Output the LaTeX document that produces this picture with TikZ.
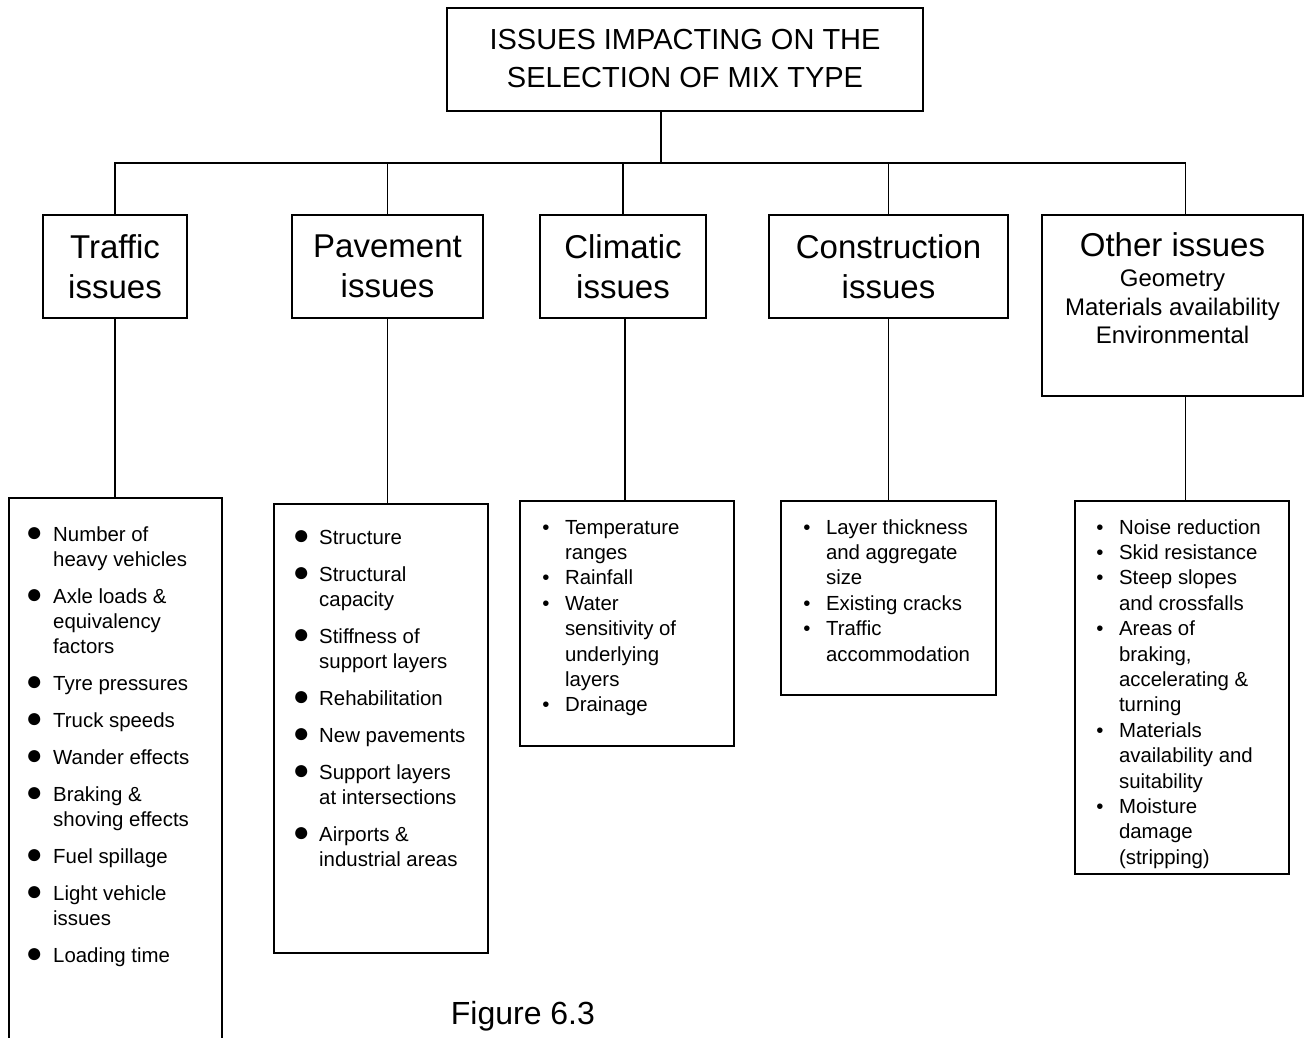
\documentclass[tikz,border=0pt]{standalone}
\usepackage{fontspec}
\setmainfont{Liberation Sans}
\usepackage{tikz}
\usetikzlibrary{positioning}

\newcommand{\bigbul}{\raisebox{0.2pt}{\fontsize{14}{12}\selectfont ●}}

\begin{document}
\begin{tikzpicture}[
        x=0.5pt, y=-0.5pt,
        line width=0.9pt,
        every node/.style={inner sep=0pt},
        mainbox/.style={draw, align=center, font=\fontsize{14.5}{19}\selectfont},
        issuebox/.style={draw, align=center, font=\fontsize{16.5}{20}\selectfont},
        listbox/.style={draw, anchor=north west},
        biglist/.style={align=left, font=\fontsize{10.2}{12.5}\selectfont},
        smalllist/.style={align=left, font=\fontsize{10.2}{12.7}\selectfont}
    ]
        \useasboundingbox (0,0) rectangle (1307,1038);

        \node[mainbox, minimum width=238pt, minimum height=51.5pt] (top) at (685,59.5) {ISSUES IMPACTING ON THE\\SELECTION OF MIX TYPE\rule[-1pt]{0pt}{1pt}};

        \node[issuebox, minimum width=72pt, minimum height=51.5pt] (traffic) at (115,266.5) {Traffic\\issues};
        \node[issuebox, minimum width=95.5pt, minimum height=51.5pt] (pavement) at (387.5,266.5) {Pavement\\issues};
        \node[issuebox, minimum width=83pt, minimum height=51.5pt] (climatic) at (623,266.5) {Climatic\\issues};
        \node[issuebox, minimum width=119.5pt, minimum height=51.5pt] (construction) at (888.5,266.5) {Construction\\issues};
        \node[issuebox, font=\fontsize{16.5}{14.25}\selectfont, minimum width=130.5pt, minimum height=90.5pt] (other) at (1172.5,305.5)
            {Other issues\\[0.75pt]{\fontsize{12}{14.25}\selectfont Geometry}\\{\fontsize{12}{14.25}\selectfont Materials availability}\\{\fontsize{12}{14.25}\selectfont Environmental\rule[-17pt]{0pt}{17pt}}};

        \node[listbox, minimum width=106.5pt, minimum height=274pt] (trafficlist) at (8,497) {};
        \node[listbox, minimum width=107pt, minimum height=224.5pt] (pavementlist) at (273,503) {};
        \node[listbox, minimum width=107pt, minimum height=122.5pt] (climaticlist) at (519,500) {};
        \node[listbox, minimum width=107.5pt, minimum height=97pt] (constructionlist) at (780,500) {};
        \node[listbox, minimum width=107pt, minimum height=186.5pt] (otherlist) at (1074,500) {};

        \node[biglist, below right=13.25pt and 8.5pt of trafficlist.north west] (trafficitems) {%
            \begin{tabular}{@{}l@{\hspace{5.2pt}}l@{}}
            \bigbul & Number of\\ & heavy vehicles\\[6pt]
            \bigbul & Axle loads \&\\ & equivalency\\ & factors\\[6pt]
            \bigbul & Tyre pressures\\[6pt]
            \bigbul & Truck speeds\\[6pt]
            \bigbul & Wander effects\\[6pt]
            \bigbul & Braking \&\\ & shoving effects\\[6pt]
            \bigbul & Fuel spillage\\[6pt]
            \bigbul & Light vehicle\\ & issues\\[6pt]
            \bigbul & Loading time
            \end{tabular}};
        \node[biglist, below right=11.75pt and 9.5pt of pavementlist.north west] (pavementitems) {%
            \begin{tabular}{@{}l@{\hspace{4.7pt}}l@{}}
            \bigbul & Structure\\[6pt]
            \bigbul & Structural\\ & capacity\\[6pt]
            \bigbul & Stiffness of\\ & support layers\\[6pt]
            \bigbul & Rehabilitation\\[6pt]
            \bigbul & New pavements\\[6pt]
            \bigbul & Support layers\\ & at intersections\\[6pt]
            \bigbul & Airports \&\\ & industrial areas
            \end{tabular}};
        \node[smalllist, below right=7.75pt and 11.25pt of climaticlist.north west] (climaticitems) {%
            \begin{tabular}{@{}l@{\hspace{7.75pt}}l@{}}
            • & Temperature\\ & ranges\\
            • & Rainfall\\
            • & Water\\ & sensitivity of\\ & underlying\\ & layers\\
            • & Drainage
            \end{tabular}};
        \node[smalllist, below right=7.75pt and 11.25pt of constructionlist.north west] (constructionitems) {%
            \begin{tabular}{@{}l@{\hspace{7.75pt}}l@{}}
            • & Layer thickness\\ & and aggregate\\ & size\\
            • & Existing cracks\\
            • & Traffic\\ & accommodation
            \end{tabular}};
        \node[smalllist, below right=7.75pt and 10.75pt of otherlist.north west] (otheritems) {%
            \begin{tabular}{@{}l@{\hspace{7.75pt}}l@{}}
            • & Noise reduction\\
            • & Skid resistance\\
            • & Steep slopes\\ & and crossfalls\\
            • & Areas of\\ & braking,\\ & accelerating \&\\ & turning\\
            • & Materials\\ & availability and\\ & suitability\\
            • & Moisture\\ & damage\\ & (stripping)
            \end{tabular}};

        \coordinate (hub) at (661,163);
        \draw ([xshift=-12pt]top.south) -- (hub);
        \draw (traffic.north) |- (hub);
        \draw (pavement.north) |- (hub);
        \draw (climatic.north) |- (hub);
        \draw (construction.north) |- (hub);
        \draw ([xshift=6.5pt]other.north) |- (hub);

        \draw (traffic.south) -- (traffic.south |- trafficlist.north);
        \draw (pavement.south) -- (pavement.south |- pavementlist.north);
        \draw ([xshift=1pt]climatic.south) -- ([xshift=1pt]climatic.south |- climaticlist.north);
        \draw (construction.south) -- (construction.south |- constructionlist.north);
        \draw ([xshift=6.5pt]other.south) -- ([xshift=6.5pt]other.south |- otherlist.north);

        \node[anchor=base west, font=\fontsize{16}{19}\selectfont] (figlabel) at (450,1024) {Figure 6.3};
    \end{tikzpicture}
\end{document}
